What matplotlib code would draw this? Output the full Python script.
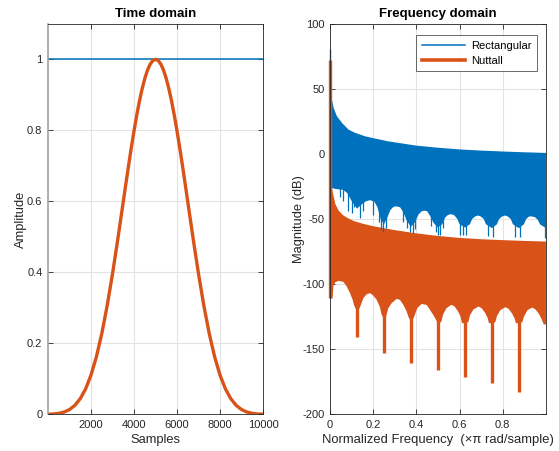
import numpy as np
import matplotlib
matplotlib.use('Agg')
import matplotlib.pyplot as plt

plt.rcParams['font.family'] = ['Liberation Sans', 'DejaVu Sans']
plt.rcParams['axes.unicode_minus'] = False

BLUE = '#0072BD'
RED = '#D95319'
INK = '#262626'

# ---- time domain (window values) ----
t_samples = [0, 250, 500, 750, 1000, 1250, 1500, 1750, 2000, 2250, 2500, 2750, 3000,
             3250, 3500, 3625, 3750, 3875, 4000, 4125, 4250, 4375, 4500, 4625, 4750,
             4875, 5000, 5125, 5250, 5375, 5500, 5625, 5750, 5875, 6000, 6125, 6250,
             6375, 6500, 6750, 7000, 7250, 7500, 7750, 8000, 8250, 8500, 8750, 9000,
             9250, 9500, 9750, 10000]
rect_amp = [1.0] * len(t_samples)
nuttall_amp = [0.0003, 0.0008, 0.0026, 0.0063, 0.0134, 0.0252, 0.044, 0.0717, 0.1105,
               0.162, 0.227, 0.3054, 0.3957, 0.4949, 0.5988, 0.6508, 0.702, 0.7514,
               0.7982, 0.8419, 0.8815, 0.9162, 0.9457, 0.9691, 0.9862, 0.9965, 1.0,
               0.9965, 0.9862, 0.9691, 0.9457, 0.9162, 0.8815, 0.8419, 0.7982, 0.7514,
               0.702, 0.6508, 0.5988, 0.4949, 0.3957, 0.3054, 0.227, 0.162, 0.1105,
               0.0717, 0.044, 0.0252, 0.0134, 0.0063, 0.0026, 0.0008, 0.0003]

# ---- frequency domain: band envelopes (dB) ----
rect_peak = 80.5
nuttall_peak = 72.0

rect_hi_f = [0.003, 0.006, 0.009, 0.017, 0.032, 0.056, 0.086, 0.117, 0.164, 0.21, 0.27,
             0.4, 0.5, 0.6, 0.7, 0.8, 0.9, 1.0]
rect_hi_db = [52, 46, 41.8, 35.4, 29, 23.8, 18.7, 16.2, 13.5, 11.8, 9.7,
              6.4, 4.8, 3.5, 2.6, 1.9, 1.3, 0.8]

rect_lo_f = [0.003, 0.03, 0.06, 0.08, 0.1, 0.125, 0.145, 0.165, 0.185, 0.205, 0.22, 0.235,
             0.25, 0.265, 0.28, 0.295, 0.31, 0.325, 0.34, 0.355, 0.375, 0.395, 0.41, 0.425,
             0.437, 0.45, 0.465, 0.48, 0.5, 0.52, 0.533, 0.545, 0.56, 0.575, 0.59, 0.6,
             0.625, 0.648, 0.658, 0.672, 0.685, 0.698, 0.712, 0.722, 0.75, 0.773, 0.783,
             0.797, 0.81, 0.823, 0.837, 0.847, 0.875, 0.898, 0.908, 0.922, 0.935, 0.948,
             0.962, 0.972, 1.0]
rect_lo_db = [-26, -27, -27.5, -30, -36, -42, -39, -36.5, -35.5, -36.5, -41, -50,
              -54, -49, -43, -40.5, -40.3, -41, -45, -51, -56, -52, -46.5, -44,
              -43.6, -44, -48, -53, -56.5, -54, -49, -47, -46.2, -47, -50, -54,
              -56.5, -54, -50, -48, -47.3, -48, -50, -54, -57, -54, -50,
              -48, -47.3, -48, -50, -54, -57, -54, -50, -48, -48, -48.5,
              -50.5, -54, -57]

# thin spikes hanging below the rectangular band
rect_spike_f = [0.045, 0.062, 0.085, 0.1, 0.111, 0.139, 0.154, 0.2, 0.225, 0.235, 0.247,
                0.26, 0.34, 0.358, 0.37, 0.383, 0.395, 0.47, 0.49, 0.502, 0.508, 0.523,
                0.6, 0.616, 0.631, 0.731, 0.755, 0.855, 0.878, 0.994]
rect_spike_db = [-33, -36, -44, -45, -41, -49, -44, -47, -52, -58, -60,
                 -57, -52, -57, -60, -61, -58, -55, -60, -62, -62, -57,
                 -62.5, -62.5, -62.5, -63, -63.5, -63.5, -64, -64.5]

nut_hi_f = [0.003, 0.009, 0.015, 0.025, 0.04, 0.06, 0.085, 0.11, 0.15, 0.2, 0.3, 0.4,
            0.5, 0.6, 0.7, 0.8, 0.9, 1.0]
nut_hi_db = [-18, -26, -31, -38.5, -43.5, -47, -49.5, -51.5, -53.5, -55.5, -58.5, -61,
             -63, -64.5, -65.5, -66.2, -66.8, -67.3]

nut_lo_f = [0.0, 0.012, 0.016, 0.025, 0.04, 0.062, 0.077, 0.093, 0.105, 0.111, 0.119, 0.125,
            0.131, 0.137, 0.143, 0.154, 0.17, 0.186, 0.2, 0.216, 0.231, 0.239, 0.245, 0.25,
            0.256, 0.262, 0.27, 0.285, 0.309, 0.324, 0.34, 0.355, 0.363, 0.369, 0.375,
            0.381, 0.39, 0.404, 0.424, 0.448, 0.463, 0.478, 0.491, 0.496, 0.5,
            0.506, 0.516, 0.523, 0.539, 0.562, 0.577, 0.593, 0.605, 0.611, 0.625,
            0.631, 0.641, 0.648, 0.664, 0.687, 0.702, 0.718, 0.73, 0.736, 0.75,
            0.756, 0.766, 0.773, 0.789, 0.812, 0.827, 0.843, 0.855, 0.861, 0.875,
            0.881, 0.891, 0.898, 0.914, 0.937, 0.952, 0.968, 0.98, 0.99, 1.0]
nut_lo_db = [-111, -111, -101, -98.5, -97.5, -98.3, -101.6, -107, -112, -116, -119, -120,
             -120, -118.5, -116, -111, -107.7, -107, -108.7, -112, -117.5, -123.5, -125, -125,
             -126, -123.6, -118.5, -114.7, -111.3, -112.1, -116, -121, -125, -127, -127,
             -128, -125, -118.5, -115.2, -116, -119.8, -123.6, -127.5, -129, -129,
             -130, -128.8, -123.6, -118.5, -115.9, -117.2, -121, -125, -130, -130,
             -130, -129, -124, -119.5, -117.2, -118.5, -122, -126, -130, -130,
             -130, -129, -124.5, -120, -117.7, -119, -122.5, -126.5, -130, -130,
             -130, -129, -125, -120, -118, -119.5, -123, -127, -131, -131]

# deep notches of the Nuttall response
nut_dip_f = [0.125, 0.25, 0.375, 0.5, 0.625, 0.75, 0.875]
nut_dip_db = [-141, -153, -160.3, -166, -171, -176.2, -182.6]

fig = plt.figure(figsize=(5.59, 4.51), dpi=100)
ax1 = fig.add_axes([0.0859, 0.0814, 0.3846, 0.8658])
ax2 = fig.add_axes([0.5903, 0.0814, 0.3864, 0.8658])

for ax in (ax1, ax2):
    ax.set_axisbelow(True)
    ax.grid(True, color='#e3e3e3', lw=0.8)
    ax.tick_params(direction='in', length=3.5, width=0.6, colors=INK, labelsize=8,
                   top=True, right=True, pad=4)
    for s in ax.spines.values():
        s.set_color(INK)
        s.set_linewidth(0.6)
ax1.spines['left'].set_color('#9a9a9a')
ax1.spines['left'].set_linewidth(1.1)

# time domain
ax1.plot(t_samples, rect_amp, color=BLUE, lw=1.1)
ax1.plot(t_samples, nuttall_amp, color=RED, lw=2.4)
ax1.set_xlim(0, 10000)
ax1.set_ylim(0, 1.1)
ax1.set_xticks([2000, 4000, 6000, 8000, 10000])
ax1.set_yticks([0, 0.2, 0.4, 0.6, 0.8, 1])
ax1.set_yticklabels(['0', '0.2', '0.4', '0.6', '0.8', '1'])
ax1.set_title('Time domain', fontsize=9.5, fontweight='bold', color='black', pad=5)
ax1.set_xlabel('Samples', fontsize=9.3, color=INK, labelpad=3)
ax1.set_ylabel('Amplitude', fontsize=9.3, color=INK, labelpad=0)

# frequency domain
ax2.fill(rect_hi_f + rect_lo_f[::-1], rect_hi_db + rect_lo_db[::-1], color=BLUE, lw=0)
ax2.vlines(rect_spike_f, -25, rect_spike_db, color=BLUE, lw=0.9, capstyle='butt')
ax2.vlines([0.0015], -26, rect_peak, color=BLUE, lw=1.0, clip_on=False)
ax2.fill(nut_hi_f + nut_lo_f[::-1], nut_hi_db + nut_lo_db[::-1], color=RED, lw=0)
ax2.vlines(nut_dip_f, -112, nut_dip_db, color=RED, lw=2.4, capstyle='butt')
ax2.vlines([0.0023], -111, nuttall_peak, color=RED, lw=2.4, clip_on=False)

ax2.plot([], [], color=BLUE, lw=1.1, label='Rectangular')
ax2.plot([], [], color=RED, lw=2.6, label='Nuttall')
leg = ax2.legend(loc='upper right', fontsize=8, frameon=True, fancybox=False,
                 handlelength=3.9, borderpad=0.5, labelspacing=0.45, borderaxespad=0,
                 bbox_to_anchor=(0.957, 0.971), handletextpad=0.5)
leg.get_frame().set_edgecolor(INK)
leg.get_frame().set_linewidth(0.6)

ax2.set_xlim(0, 1)
ax2.set_ylim(-200, 100)
ax2.set_xticks([0, 0.2, 0.4, 0.6, 0.8])
ax2.set_xticklabels(['0', '0.2', '0.4', '0.6', '0.8'])
ax2.set_yticks([-200, -150, -100, -50, 0, 50, 100])
ax2.set_title('Frequency domain', fontsize=9.5, fontweight='bold', color='black', pad=5)
ax2.set_xlabel('Normalized Frequency  (\u00d7\u03c0 rad/sample)', fontsize=9.4, color=INK,
               labelpad=3)
ax2.set_ylabel('Magnitude (dB)', fontsize=9.3, color=INK, labelpad=-2)

fig.savefig('out.png', dpi=100)
